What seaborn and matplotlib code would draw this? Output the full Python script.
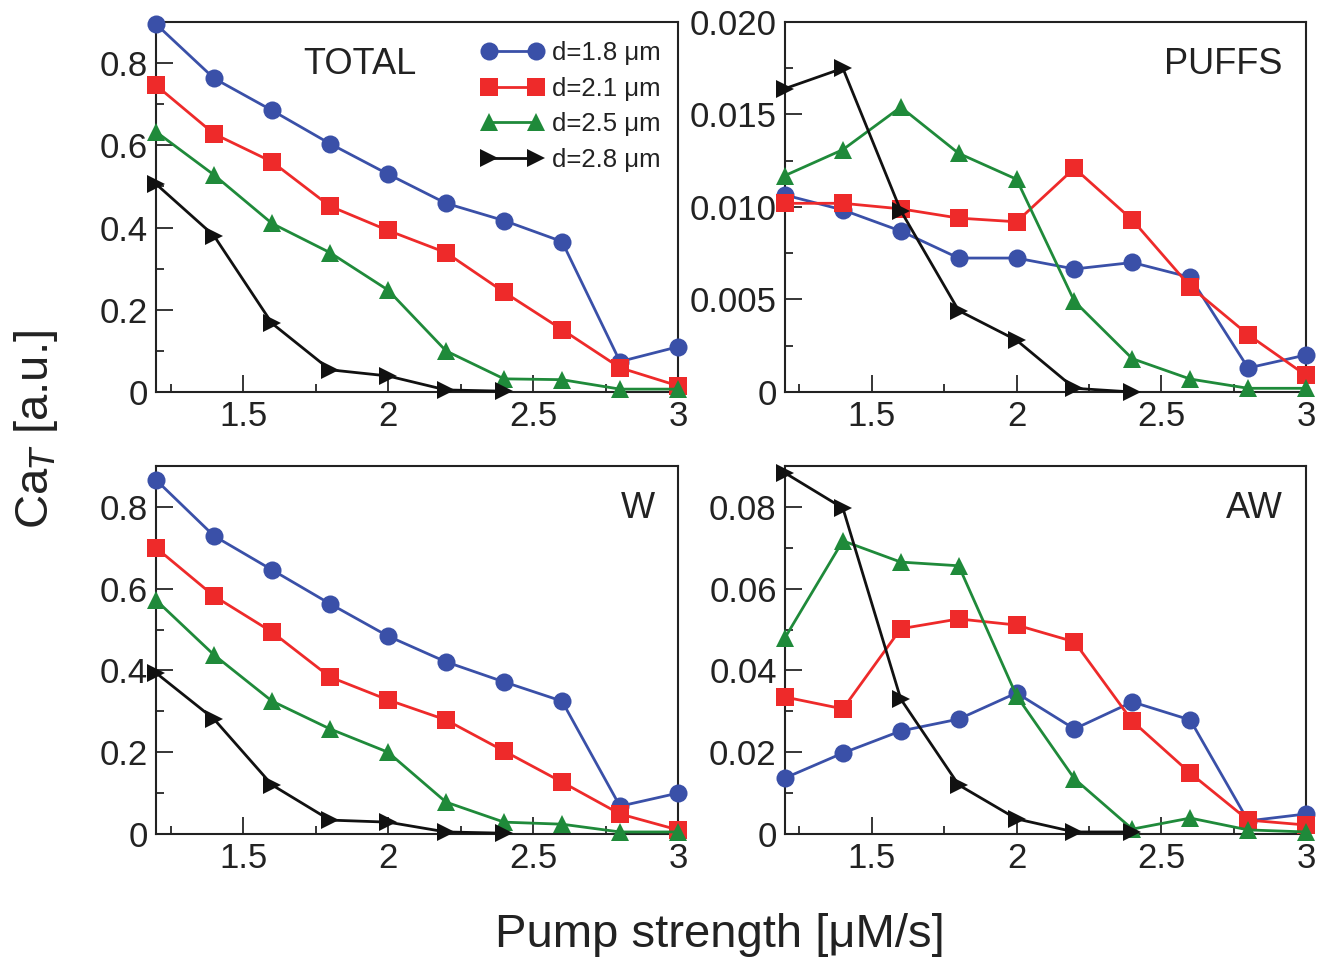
import numpy as np
import pandas as pd
import matplotlib
matplotlib.use('Agg')
import matplotlib.pyplot as plt
from matplotlib.ticker import MultipleLocator
import seaborn as sns

# pump strength grid
pump = [1.2, 1.4, 1.6, 1.8, 2.0, 2.2, 2.4, 2.6, 2.8, 3.0]
pump_short = pump[:7]   # d=2.8 only goes to 2.4

labels = ['d=1.8 μm', 'd=2.1 μm', 'd=2.5 μm', 'd=2.8 μm']

# TOTAL
total_18 = [0.895, 0.763, 0.685, 0.604, 0.530, 0.459, 0.417, 0.366, 0.074, 0.110]
total_21 = [0.746, 0.628, 0.560, 0.452, 0.393, 0.339, 0.243, 0.152, 0.059, 0.015]
total_25 = [0.633, 0.528, 0.410, 0.339, 0.248, 0.100, 0.032, 0.030, 0.007, 0.007]
total_28 = [0.506, 0.380, 0.167, 0.054, 0.039, 0.005, 0.002]

# PUFFS
puffs_18 = [0.01065, 0.00984, 0.0087, 0.00724, 0.00724, 0.00665, 0.0070, 0.0062, 0.0013, 0.0020]
puffs_21 = [0.0102, 0.0102, 0.0099, 0.0094, 0.0092, 0.0121, 0.0093, 0.0057, 0.0031, 0.0009]
puffs_25 = [0.0117, 0.0131, 0.0154, 0.0129, 0.0115, 0.0049, 0.0018, 0.0007, 0.0002, 0.0002]
puffs_28 = [0.0164, 0.0175, 0.0098, 0.0044, 0.0028, 0.0002, 0.0]

# W
w_18 = [0.866, 0.729, 0.646, 0.563, 0.484, 0.421, 0.372, 0.325, 0.068, 0.100]
w_21 = [0.700, 0.582, 0.494, 0.384, 0.328, 0.279, 0.203, 0.127, 0.049, 0.010]
w_25 = [0.572, 0.438, 0.325, 0.257, 0.200, 0.078, 0.029, 0.024, 0.005, 0.005]
w_28 = [0.394, 0.281, 0.120, 0.034, 0.029, 0.005, 0.002]

# AW
aw_18 = [0.0137, 0.0198, 0.0252, 0.0281, 0.0345, 0.0257, 0.0323, 0.0279, 0.0032, 0.0049]
aw_21 = [0.0335, 0.0306, 0.0502, 0.0526, 0.0511, 0.0470, 0.0276, 0.0149, 0.0034, 0.0022]
aw_25 = [0.0480, 0.0717, 0.0665, 0.0656, 0.0338, 0.0135, 0.0012, 0.0039, 0.0010, 0.0005]
aw_28 = [0.0883, 0.0797, 0.0330, 0.0120, 0.0037, 0.0005, 0.0005]


def to_long(s18, s21, s25, s28):
    frames = []
    for lab, ys in zip(labels, [s18, s21, s25, s28]):
        xs = pump if len(ys) == len(pump) else pump_short
        frames.append(pd.DataFrame({'pump': xs, 'ca': ys, 'd': lab}))
    return pd.concat(frames, ignore_index=True)


sns.set_theme(style='ticks')
plt.rcParams['font.family'] = ['Liberation Sans', 'DejaVu Sans']

palette = dict(zip(labels, ['#3a50a8', '#ee2a2a', '#1f8a3a', '#111111']))
markers = dict(zip(labels, ['o', 's', '^', '>']))

fig = plt.figure(figsize=(13.19, 9.64), dpi=100)
W, H = 1319, 964
boxes = {
    'TOTAL': (156, 22, 678, 392),
    'PUFFS': (785, 22, 1306, 392),
    'W':     (156, 466, 678, 834),
    'AW':    (785, 466, 1306, 834),
}

panels = [
    ('TOTAL', to_long(total_18, total_21, total_25, total_28), 0.9, 0.2, 0.1, None),
    ('PUFFS', to_long(puffs_18, puffs_21, puffs_25, puffs_28), 0.02, 0.005, 0.0025, '{:.3f}'),
    ('W', to_long(w_18, w_21, w_25, w_28), 0.9, 0.2, 0.1, None),
    ('AW', to_long(aw_18, aw_21, aw_25, aw_28), 0.09, 0.02, 0.01, '{:.2f}'),
]

for name, df, ytop, ymaj, ymin_, fmt in panels:
    x0, y0, x1, y1 = boxes[name]
    ax = fig.add_axes([x0 / W, 1 - y1 / H, (x1 - x0) / W, (y1 - y0) / H])
    sns.lineplot(data=df, x='pump', y='ca', hue='d', style='d',
                 palette=palette, markers=markers, dashes=False,
                 markersize=13, markeredgewidth=0, linewidth=2,
                 ax=ax, legend=(name == 'TOTAL'), clip_on=False, zorder=3)
    ax.set_xlim(1.2, 3.0)
    ax.set_ylim(0, ytop)
    ax.xaxis.set_minor_locator(MultipleLocator(0.25))
    ax.yaxis.set_major_locator(MultipleLocator(ymaj))
    ax.yaxis.set_minor_locator(MultipleLocator(ymin_))
    ax.set_xticks([1.5, 2.0, 2.5, 3.0])
    ax.set_xticklabels(['1.5', '2', '2.5', '3'])
    yt = [v for v in ax.get_yticks() if -1e-9 <= v <= ytop + 1e-9]
    ax.set_yticks(yt)
    if fmt is None:
        ax.set_yticklabels(['0' if v == 0 else '{:g}'.format(round(v, 3)) for v in yt])
    else:
        ax.set_yticklabels(['0' if v == 0 else fmt.format(v) for v in yt])
    ax.set_ylim(0, ytop)
    ax.tick_params(which='major', direction='in', length=12, width=1.3,
                   labelsize=25, pad=6, top=False, right=False,
                   labelcolor='#222222')
    ax.tick_params(which='minor', direction='in', length=6, width=1.3,
                   top=False, right=False)
    for sp in ax.spines.values():
        sp.set_visible(True)
        sp.set_linewidth(1.5)
        sp.set_color('#222222')
    ax.set_xlabel('')
    ax.set_ylabel('')

    if name == 'TOTAL':
        ax.text(0.39, 0.885, 'TOTAL', transform=ax.transAxes, ha='center',
                va='center', fontsize=26, color='#222222')
        handles, lbls = ax.get_legend_handles_labels()
        ax.legend(handles, lbls, loc='upper right', bbox_to_anchor=(0.997, 0.99),
                  numpoints=2, frameon=False, fontsize=18.5, handlelength=2.4,
                  handletextpad=0.35, labelspacing=0.45, borderaxespad=0.2,
                  labelcolor='#222222')
    else:
        ax.text(0.955, 0.885, name, transform=ax.transAxes, ha='right',
                va='center', fontsize=26, color='#222222')

fig.text(0.027, 0.555, 'Ca$_T$ [a.u.]', rotation=90, ha='center', va='center',
         fontsize=34, color='#222222')
fig.text(0.546, 0.03, 'Pump strength [μM/s]', ha='center', va='center',
         fontsize=34, color='#222222')

fig.savefig('out.png', dpi=100)
